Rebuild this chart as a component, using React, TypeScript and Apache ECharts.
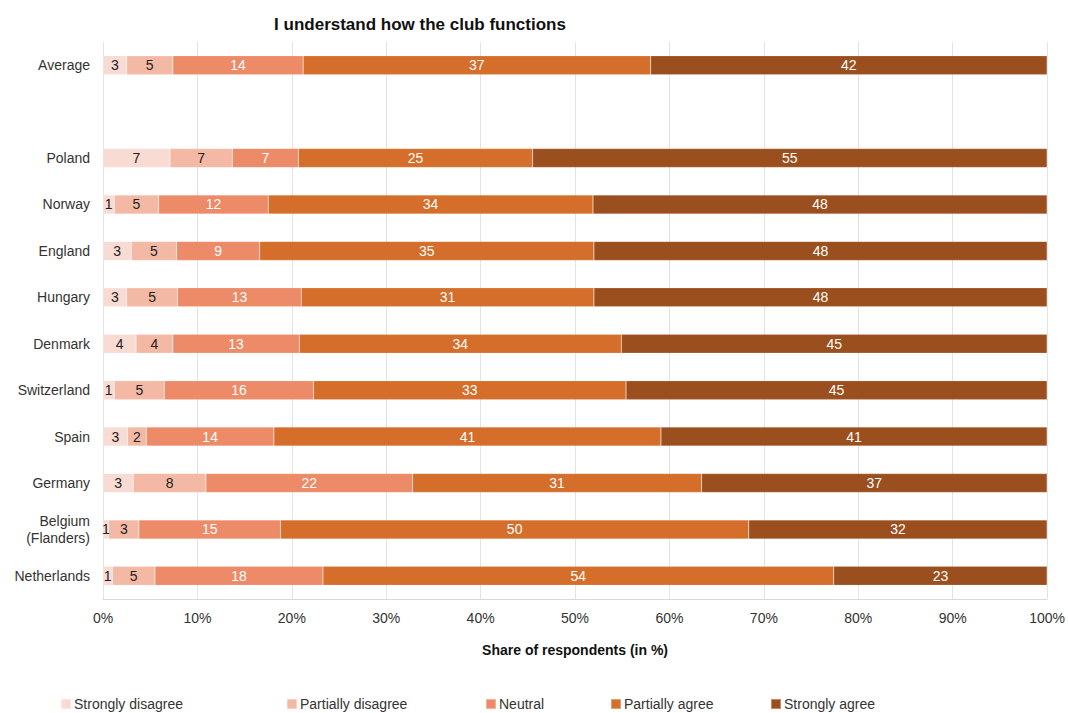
import React, { useEffect, useRef } from "react";
import * as echarts from "echarts";

const categories = [
  "Average", "", "Poland", "Norway", "England", "Hungary", "Denmark",
  "Switzerland", "Spain", "Germany", "Belgium\n(Flanders)", "Netherlands",
];
const seriesNames = ["Strongly disagree", "Partially disagree", "Neutral", "Partially agree", "Strongly agree"];
const stronglyDisagree = [2.5, null, 7.1, 1.2, 3.0, 2.5, 3.5, 1.2, 2.6, 3.2, 0.6, 1.0];
const partiallyDisagree = [4.9, null, 6.6, 4.7, 4.8, 5.4, 3.9, 5.3, 2.0, 7.7, 3.2, 4.5];
const neutral = [13.8, null, 7.0, 11.6, 8.8, 13.1, 13.4, 15.8, 13.5, 21.9, 15.0, 17.8];
const partiallyAgree = [36.8, null, 24.8, 34.4, 35.4, 31.0, 34.1, 33.1, 41.0, 30.6, 49.6, 54.1];
const stronglyAgree = [42.0, null, 54.5, 48.1, 48.0, 48.0, 45.1, 44.6, 40.9, 36.6, 31.6, 22.6];
const xTicks = [0, 10, 20, 30, 40, 50, 60, 70, 80, 90, 100];

const colors = ["#f8dbd3", "#f4b9a5", "#ed8a67", "#d46e2a", "#9c4f1e"];
const labelColors = ["#222", "#222", "#fff", "#fff", "#fff"];
const legendLefts = [60, 286, 485, 610, 770];

export default function App() {
  const ref = useRef<HTMLDivElement>(null);
  useEffect(() => {
    const chart = echarts.init(ref.current!, undefined, { renderer: "svg" });
    const datasets = [stronglyDisagree, partiallyDisagree, neutral, partiallyAgree, stronglyAgree];
    const font = "Liberation Sans, Arial, sans-serif";
    chart.setOption({
      animation: false,
      textStyle: { fontFamily: font },
      title: {
        text: "I understand how the club functions",
        left: 415,
        top: 11,
        textAlign: "center",
        textStyle: { fontSize: 17, fontWeight: "bold", color: "#111", fontFamily: font },
      },
      legend: seriesNames.map((n, i) => ({
        data: [n],
        left: legendLefts[i],
        top: 697,
        padding: 0,
        itemWidth: 10,
        itemHeight: 10,
        itemGap: 4,
        icon: "rect",
        textStyle: { fontSize: 14, lineHeight: 14, color: "#333", fontFamily: font, padding: [0, 0, 0, -2] },
      })),
      grid: { left: 103, right: 20, top: 42, bottom: 114, containLabel: false },
      xAxis: {
        type: "value",
        min: 0,
        max: 100,
        interval: 10,
        axisLabel: {
          formatter: (v: number) => (xTicks.includes(v) ? v + "%" : ""),
          fontSize: 14,
          color: "#333",
          margin: 12,
        },
        axisLine: { show: true, lineStyle: { color: "#d9d9d9" } },
        axisTick: { show: false },
        splitLine: { show: true, lineStyle: { color: "#e3e3e3" } },
        name: "Share of respondents (in %)",
        nameLocation: "middle",
        nameGap: 44,
        nameTextStyle: { fontSize: 14, fontWeight: "bold", color: "#111" },
      },
      yAxis: {
        type: "category",
        data: categories,
        inverse: true,
        axisLine: { show: false },
        axisTick: { show: false },
        axisLabel: { fontSize: 14, color: "#333", margin: 13, lineHeight: 17, align: "right" },
      },
      series: datasets.map((d, i) => ({
        name: seriesNames[i],
        type: "bar",
        stack: "total",
        data: d,
        barWidth: 19,
        itemStyle: { color: colors[i], borderColor: "rgba(255,255,255,0.35)", borderWidth: 0.5 },
        label: {
          show: true,
          position: "inside",
          formatter: (p: any) => (p.value == null ? "" : String(Math.round(p.value))),
          color: labelColors[i],
          fontSize: 14,
          fontFamily: font,
        },
      })),
    });
    return () => chart.dispose();
  }, []);
  return <div ref={ref} style={{ width: 1068, height: 713, position: "absolute", left: 0, top: 0 }} />;
}
